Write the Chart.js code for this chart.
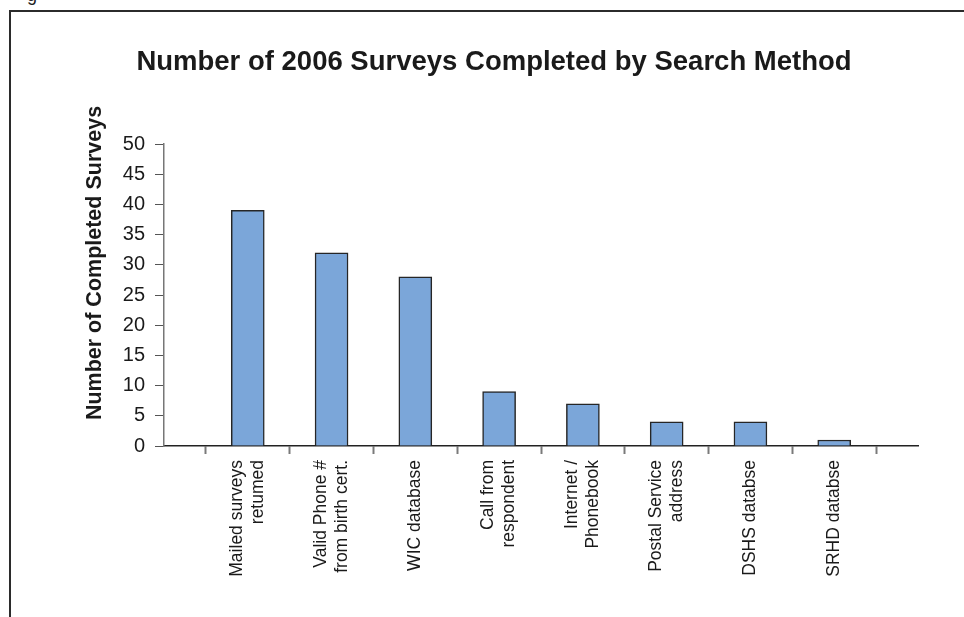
<!DOCTYPE html>
<html>
<head>
<meta charset="utf-8">
<script src="https://cdn.jsdelivr.net/npm/chart.js@4.4.1/dist/chart.umd.min.js"></script>
<style>
    html, body { margin: 0; padding: 0; background: #fff; overflow: hidden; }
    #wrap { position: relative; width: 964px; height: 617px; }
    #frame {
        position: absolute; left: 9px; top: 10px; width: 970px; height: 620px;
        border-top: 2px solid #2b2b2b; border-left: 2px solid #2b2b2b;
    }
    #cut {
        position: absolute; left: 27px; top: -15px;
        font: 18px "Liberation Sans", Arial, sans-serif; color: #222;
    }
    canvas { position: absolute; left: 0; top: 0; }
</style>
</head>
<body>
<div id="wrap">
    <div id="cut">g</div>
    <div id="frame"></div>
    <canvas id="chart" width="964" height="617"></canvas>
</div>
<script>
const chartTitle = 'Number of 2006 Surveys Completed by Search Method';
const yTitle = 'Number of Completed Surveys';

// empty slots at both ends keep the bars off the axis ends
const methods = [
    '',
    ['Mailed surveys', 'retumed'],
    ['Valid Phone #', 'from birth cert.'],
    'WIC database',
    ['Call from', 'respondent'],
    ['Internet /', 'Phonebook'],
    ['Postal Service', 'address'],
    'DSHS databse',
    'SRHD databse',
    ''
];
const surveysCompleted = [null, 39, 32, 28, 9, 7, 4, 4, 1, null];

const yMin = 0;
const yMax = 50;
const yStep = 5;

const font = '"Liberation Sans", Arial, sans-serif';

// titles drawn by hand so they sit where the layout wants them
const titlesPlugin = {
    id: 'titles',
    afterDraw(chart) {
        const ctx = chart.ctx;
        ctx.save();
        ctx.fillStyle = '#1a1a1a';
        ctx.textAlign = 'center';
        ctx.textBaseline = 'middle';
        ctx.font = 'bold 27.5px ' + font;
        ctx.fillText(chartTitle, 494, 62);

        ctx.translate(95, 263);
        ctx.rotate(-Math.PI / 2);
        ctx.font = 'bold 21.5px ' + font;
        ctx.fillText(yTitle, 0, 0);
        ctx.restore();
    }
};

// vertical category labels, each block of lines centred on its bar
const xLabelsPlugin = {
    id: 'xLabels',
    afterDraw(chart) {
        const xs = chart.scales.x;
        const ctx = chart.ctx;
        const lineH = 21;
        const top = xs.top + 14;
        ctx.save();
        ctx.fillStyle = '#1a1a1a';
        ctx.font = '17.5px ' + font;
        ctx.textAlign = 'right';
        ctx.textBaseline = 'middle';
        methods.forEach((label, i) => {
            const lines = Array.isArray(label) ? label : [label];
            const x = xs.getPixelForTick(i);
            ctx.save();
            ctx.translate(x, top);
            ctx.rotate(-Math.PI / 2);
            lines.forEach((line, j) => {
                ctx.fillText(line, 0, (j - (lines.length - 1) / 2) * lineH);
            });
            ctx.restore();
        });
        ctx.restore();
    }
};

let ctx = document.getElementById('chart').getContext('2d');
new Chart(ctx, {
    type: 'bar',
    data: {
        labels: methods,
        datasets: [{
            data: surveysCompleted,
            backgroundColor: '#7ba6d9',
            borderColor: '#262626',
            borderWidth: 1.5,
            barThickness: 33
        }]
    },
    options: {
        responsive: false,
        animation: false,
        layout: {
            padding: { top: 144, right: 46, left: 0, bottom: 0 }
        },
        plugins: {
            legend: { display: false },
            tooltip: { enabled: false }
        },
        scales: {
            x: {
                offset: false,
                grid: {
                    offset: true,
                    drawOnChartArea: false,
                    drawTicks: true,
                    tickLength: 8,
                    color: '#7a7a7a',
                    tickWidth: 2
                },
                border: { display: true, color: '#222', width: 1.5 },
                ticks: { display: false, autoSkip: false },
                afterFit(scale) { scale.height = 171; }
            },
            y: {
                min: yMin,
                max: yMax,
                ticks: {
                    stepSize: yStep,
                    padding: 10,
                    color: '#1a1a1a',
                    font: { family: font, size: 20 }
                },
                grid: {
                    drawOnChartArea: false,
                    drawTicks: true,
                    tickLength: 9,
                    color: '#555'
                },
                border: { display: true, color: '#777', width: 1.5 },
                afterFit(scale) { scale.width = 164; }
            }
        }
    },
    plugins: [titlesPlugin, xLabelsPlugin]
});
</script>
</body>
</html>
